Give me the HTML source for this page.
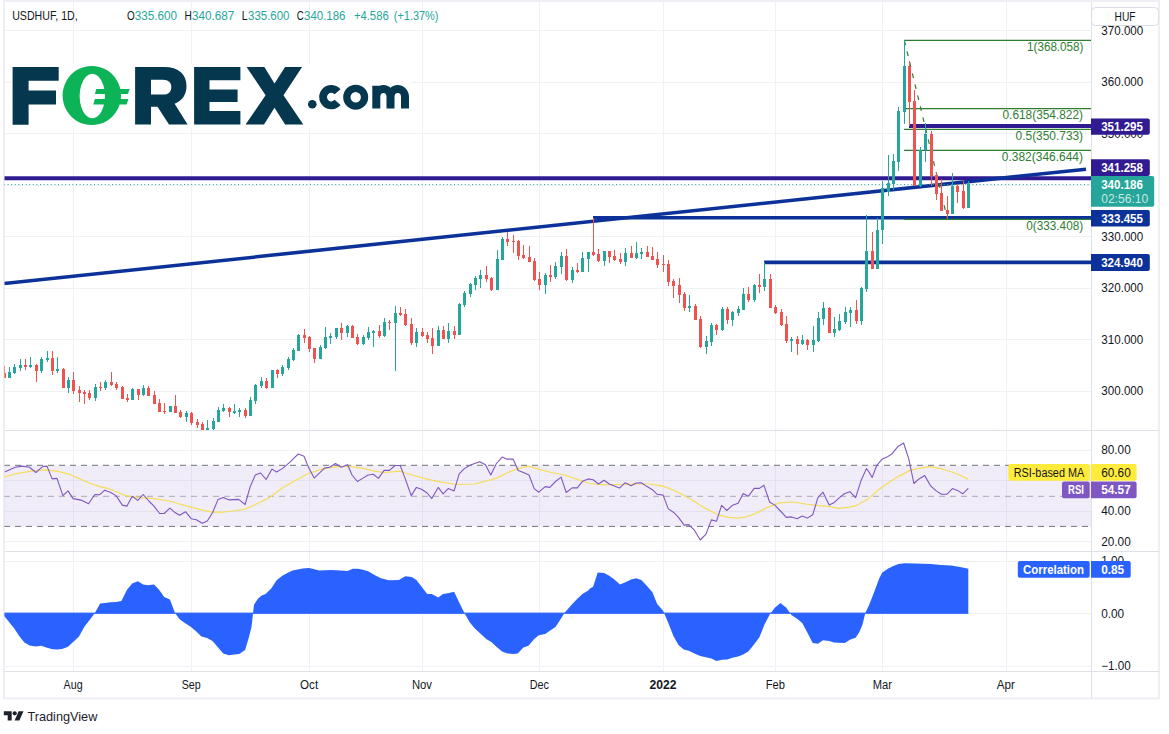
<!DOCTYPE html><html><head><meta charset="utf-8"><title>USDHUF</title><style>html,body{margin:0;padding:0;background:#fff}body{width:1169px;height:734px;overflow:hidden}</style></head><body><svg width="1169" height="734" viewBox="0 0 1169 734" style="display:block">
<rect width="1169" height="734" fill="#fff"/>
<rect x="4" y="1" width="1155" height="697.5" fill="#fff" stroke="#edeff5" stroke-width="2"/>
<g stroke="#f0f1f5" stroke-width="1" shape-rendering="crispEdges">
<line x1="73.5" y1="2" x2="73.5" y2="671"/>
<line x1="191.5" y1="2" x2="191.5" y2="671"/>
<line x1="309.5" y1="2" x2="309.5" y2="671"/>
<line x1="422.5" y1="2" x2="422.5" y2="671"/>
<line x1="539.5" y1="2" x2="539.5" y2="671"/>
<line x1="663.5" y1="2" x2="663.5" y2="671"/>
<line x1="775.5" y1="2" x2="775.5" y2="671"/>
<line x1="882.5" y1="2" x2="882.5" y2="671"/>
<line x1="1006.5" y1="2" x2="1006.5" y2="671"/>
<line x1="4" y1="30.6" x2="1091" y2="30.6"/>
<line x1="4" y1="82.1" x2="1091" y2="82.1"/>
<line x1="4" y1="133.6" x2="1091" y2="133.6"/>
<line x1="4" y1="185.1" x2="1091" y2="185.1"/>
<line x1="4" y1="236.6" x2="1091" y2="236.6"/>
<line x1="4" y1="288.1" x2="1091" y2="288.1"/>
<line x1="4" y1="339.5" x2="1091" y2="339.5"/>
<line x1="4" y1="391.0" x2="1091" y2="391.0"/>
<line x1="4" y1="450" x2="1091" y2="450"/>
<line x1="4" y1="480.5" x2="1091" y2="480.5"/>
<line x1="4" y1="511.5" x2="1091" y2="511.5"/>
<line x1="4" y1="541.5" x2="1091" y2="541.5"/>
<line x1="4" y1="561" x2="1091" y2="561"/>
<line x1="4" y1="613.4" x2="1091" y2="613.4"/>
<line x1="4" y1="666" x2="1091" y2="666"/>
</g>
<g stroke="#dfe1e8" stroke-width="1" shape-rendering="crispEdges">
<line x1="4" y1="430.5" x2="1159" y2="430.5"/>
<line x1="4" y1="551.5" x2="1159" y2="551.5"/>
<line x1="4" y1="671.5" x2="1159" y2="671.5"/>
<line x1="1091.5" y1="2" x2="1091.5" y2="698"/>
</g>
<rect x="4" y="465.3" width="1087" height="61.1" fill="#7e57c2" fill-opacity="0.11"/>
<g stroke="#70737f" stroke-width="1">
<line x1="4" y1="465.3" x2="1091" y2="465.3" stroke-dasharray="6,5"/>
<line x1="4" y1="526.4" x2="1091" y2="526.4" stroke-dasharray="6,5"/>
<line x1="4" y1="496.3" x2="1091" y2="496.3" stroke-dasharray="6,5" stroke-opacity="0.55"/>
</g>
<path d="M4.6,477.1 L15.4,473.8 L30.8,471.2 L46.2,469.9 L56.5,471.2 L68.0,473.8 L77.0,477.6 L88.5,482.7 L100.1,486.6 L110.3,489.2 L125.7,495.6 L138.6,497.6 L154.0,498.6 L169.4,501.0 L179.6,504.0 L191.2,507.1 L202.7,510.2 L212.5,512.2 L223.2,512.2 L233.5,511.0 L245.1,509.2 L255.3,504.5 L269.4,497.6 L282.3,487.9 L295.0,480.7 L307.8,473.8 L323.2,468.6 L336.1,466.8 L347.6,466.1 L361.7,468.1 L374.5,471.2 L384.8,472.5 L400.2,471.2 L410.5,474.5 L425.9,478.9 L441.3,482.2 L456.7,484.5 L474.6,484.0 L487.5,480.7 L497.7,477.6 L508.0,472.5 L518.2,468.6 L528.5,466.1 L538.8,469.1 L551.6,472.5 L564.4,475.0 L577.3,479.4 L587.5,482.7 L590.0,483.5 L602.8,484.8 L618.2,484.5 L633.6,484.0 L649.0,484.0 L663.1,486.1 L677.2,491.7 L692.6,500.2 L705.5,508.4 L718.3,514.8 L728.6,517.4 L737.5,518.1 L746.5,516.9 L756.8,513.0 L767.1,507.6 L779.9,502.8 L792.7,502.0 L805.6,504.0 L818.4,505.6 L828.6,506.3 L838.9,508.4 L849.2,507.1 L856.9,505.3 L867.1,499.4 L869.0,498.1 L879.3,489.2 L889.5,482.0 L899.8,475.6 L910.1,470.4 L920.3,468.1 L930.6,466.6 L940.9,468.6 L951.1,471.7 L961.4,475.8 L968.3,479.4" fill="none" stroke="#f6dc5a" stroke-width="1.2" stroke-linejoin="round"/>
<path d="M4.6,472.0 L15.4,467.3 L21.8,466.1 L29.5,467.3 L35.9,472.5 L42.3,466.8 L47.0,466.1 L52.1,478.9 L57.0,478.4 L62.9,495.6 L68.0,490.9 L73.1,498.6 L82.1,500.4 L88.5,503.8 L94.9,494.5 L99.6,494.8 L104.7,490.2 L110.3,492.2 L116.0,495.6 L122.4,505.1 L127.0,506.1 L132.2,496.3 L137.8,500.4 L143.2,494.5 L148.8,501.0 L154.0,506.1 L159.6,513.5 L164.2,513.5 L169.9,508.1 L174.5,512.2 L179.6,515.3 L185.5,511.7 L191.2,518.7 L196.3,519.7 L202.2,523.3 L207.3,521.0 L212.5,512.8 L218.1,499.4 L223.2,497.6 L229.2,499.9 L238.6,499.4 L245.1,504.5 L250.2,486.6 L255.3,475.0 L260.5,473.0 L266.1,479.4 L272.0,469.1 L276.6,472.0 L282.3,468.6 L290.0,462.2 L295.0,457.1 L298.3,454.0 L304.0,456.3 L309.1,468.6 L314.2,478.1 L319.4,473.2 L324.5,468.1 L329.6,467.3 L335.5,463.5 L341.2,467.3 L347.6,464.8 L352.0,475.0 L357.4,481.5 L363.0,478.1 L368.1,475.0 L373.3,474.3 L378.4,478.4 L384.0,470.4 L389.4,470.4 L395.1,465.5 L400.2,465.5 L405.3,478.9 L411.2,495.6 L416.4,487.4 L421.5,489.2 L427.2,493.0 L431.8,498.6 L438.2,487.4 L443.1,493.8 L448.2,488.6 L454.1,490.9 L459.2,473.8 L464.4,468.6 L469.5,465.5 L474.6,463.5 L479.8,461.7 L485.4,464.8 L490.8,475.0 L496.4,463.5 L502.1,457.1 L506.7,459.1 L513.1,459.1 L518.2,470.4 L523.4,472.5 L529.0,475.0 L534.2,488.6 L538.8,492.2 L545.2,486.6 L549.8,487.4 L555.5,481.5 L561.1,477.1 L566.2,492.5 L572.1,487.9 L577.3,487.9 L582.9,480.9 L588.3,478.9 L593.1,479.7 L598.5,484.0 L604.1,480.2 L609.2,484.0 L614.4,486.1 L619.5,488.1 L625.2,482.7 L631.1,485.8 L636.2,483.0 L641.3,482.7 L647.0,486.6 L652.4,489.7 L657.2,494.3 L663.1,495.1 L668.3,508.9 L673.4,512.2 L678.5,517.4 L684.2,525.1 L688.8,524.6 L694.4,530.2 L700.3,540.0 L706.0,534.1 L711.4,519.9 L716.5,521.2 L721.6,505.3 L726.8,510.5 L732.4,505.3 L738.1,503.3 L743.2,493.5 L748.3,496.3 L754.2,488.4 L759.4,488.4 L764.0,485.3 L769.6,502.0 L774.8,505.1 L780.4,511.0 L786.3,517.4 L791.4,516.9 L797.1,518.7 L802.2,516.1 L807.3,518.1 L812.7,514.8 L817.9,497.6 L823.0,492.2 L829.2,505.1 L833.8,502.8 L839.4,497.6 L844.8,493.5 L849.9,491.7 L855.6,497.6 L861.2,480.2 L866.4,468.6 L869.0,472.0 L872.1,477.6 L876.7,465.5 L882.3,458.9 L887.0,457.1 L892.1,453.7 L897.7,446.8 L903.6,443.0 L908.8,459.1 L913.9,483.5 L919.0,478.9 L924.7,475.6 L930.6,485.8 L936.2,490.9 L941.4,494.3 L946.8,494.3 L952.4,488.6 L957.5,490.4 L962.7,493.8 L968.3,488.4" fill="none" stroke="#7e57c2" stroke-width="1.1" stroke-linejoin="round"/>
<path d="M3.8,613.2 L3.8,615.4 L9.0,621.9 L14.1,628.3 L19.2,636.0 L24.4,642.4 L29.5,645.5 L35.9,646.5 L41.1,645.7 L46.2,647.5 L52.6,649.3 L57.7,649.6 L62.9,648.8 L68.0,646.7 L73.1,641.9 L79.0,636.5 L84.2,627.0 L89.8,619.8 L94.9,612.9 L100.1,603.4 L105.2,603.1 L110.3,602.3 L116.0,602.1 L121.4,601.1 L127.0,589.8 L132.2,583.4 L137.8,581.3 L143.2,584.6 L148.1,585.2 L154.0,584.6 L159.1,589.8 L164.2,597.0 L169.9,599.5 L175.0,612.9 L179.6,619.3 L184.8,623.1 L190.4,626.5 L196.3,631.6 L201.4,636.5 L207.1,638.0 L212.5,641.1 L218.1,647.5 L223.2,653.4 L228.9,655.2 L234.0,654.4 L239.2,653.9 L245.1,650.1 L248.9,637.2 L251.5,627.0 L254.0,604.7 L257.9,598.8 L261.7,595.4 L265.6,594.1 L271.2,588.5 L276.6,580.3 L282.3,575.7 L287.4,573.1 L292.5,570.5 L295.0,570.0 L302.7,568.5 L309.1,568.0 L319.4,570.5 L330.9,570.0 L341.2,570.5 L347.6,571.0 L352.7,568.7 L357.9,568.7 L363.0,569.8 L368.1,571.3 L374.5,574.9 L381.0,578.2 L388.7,580.3 L398.9,580.0 L405.3,576.2 L411.8,576.9 L416.4,580.0 L422.0,587.2 L427.2,594.1 L431.8,594.1 L438.2,597.5 L443.1,594.1 L449.0,593.1 L454.1,591.8 L459.2,602.6 L464.4,612.9 L469.5,621.9 L474.6,628.3 L480.3,633.4 L486.2,639.0 L491.3,641.9 L496.4,646.7 L502.1,651.4 L507.5,653.4 L513.1,653.9 L517.7,653.4 L523.4,647.5 L528.5,645.7 L534.2,639.0 L538.8,635.2 L545.2,633.9 L549.8,630.8 L555.5,627.0 L560.6,619.3 L564.4,612.9 L571.6,604.7 L577.3,598.8 L582.4,594.1 L588.3,590.5 L590.0,588.5 L593.1,586.7 L597.7,572.6 L604.1,573.1 L609.2,575.7 L614.4,579.5 L620.0,584.6 L625.9,582.1 L631.1,579.5 L636.2,578.2 L641.3,580.0 L647.0,585.9 L652.4,592.3 L657.2,603.9 L663.1,610.8 L665.7,616.7 L668.3,623.1 L673.4,636.0 L678.5,644.9 L683.7,649.6 L688.8,650.8 L694.4,653.4 L700.3,656.0 L706.0,657.3 L711.4,658.5 L716.5,660.9 L722.2,659.8 L727.3,659.6 L732.4,657.8 L738.1,656.5 L743.2,654.4 L748.3,651.4 L754.2,644.2 L759.4,637.2 L764.5,624.4 L769.6,614.7 L774.8,607.7 L780.4,603.1 L786.3,607.7 L791.4,614.9 L797.1,618.8 L802.2,623.1 L807.3,632.6 L812.7,643.1 L817.9,643.7 L823.0,640.3 L829.2,641.1 L833.8,642.4 L844.8,642.9 L849.9,639.8 L855.6,637.8 L859.4,632.1 L862.5,624.4 L865.3,612.9 L869.0,605.2 L874.1,592.3 L879.3,578.2 L882.3,572.6 L888.2,568.5 L893.4,565.9 L898.5,564.1 L904.9,563.3 L915.2,563.6 L930.6,564.1 L940.9,564.9 L951.1,565.4 L960.1,566.9 L968.3,568.7 L968.3,612.9 L968.3,613.2 Z" fill="#2962ff"/>
<rect x="4" y="612.6" width="964.3" height="1.2" fill="#2962ff"/>
<rect x="11" y="64" width="400" height="63.5" fill="#fff"/>
<line x1="4.2" y1="178.2" x2="1091" y2="178.2" stroke="#311b92" stroke-width="4"/>
<line x1="909" y1="126" x2="1091" y2="126" stroke="#311b92" stroke-width="4"/>
<line x1="593" y1="217.8" x2="1091" y2="217.8" stroke="#0c3299" stroke-width="3.6"/>
<line x1="764" y1="262.4" x2="1091" y2="262.4" stroke="#0c3299" stroke-width="3.6"/>
<line x1="4.2" y1="283.5" x2="1086" y2="169.2" stroke="#0c3299" stroke-width="3.5"/>
<line x1="4" y1="184.5" x2="1091" y2="184.5" stroke="#26a69a" stroke-width="1" stroke-dasharray="1,2.6"/>
<g stroke="#2e7d32" stroke-width="1.2">
<line x1="904" y1="40.4" x2="1091" y2="40.4"/>
<line x1="904" y1="108.6" x2="1091" y2="108.6"/>
<line x1="904" y1="129.4" x2="1091" y2="129.4"/>
<line x1="904" y1="150.3" x2="1091" y2="150.3"/>
<line x1="904" y1="219.4" x2="1091" y2="219.4"/>
<line x1="904.4" y1="40.4" x2="947.4" y2="219" stroke-dasharray="4.8,6.5" stroke-width="1.2"/>
</g>
<g shape-rendering="crispEdges">
<rect x="4" y="366" width="1" height="12" fill="#ef5350"/><rect x="3" y="373" width="3" height="5" fill="#ef5350"/>
<rect x="9" y="367" width="1" height="11" fill="#26a69a"/><rect x="8" y="372" width="3" height="6" fill="#26a69a"/>
<rect x="14" y="364" width="1" height="10" fill="#26a69a"/><rect x="13" y="367" width="3" height="6" fill="#26a69a"/>
<rect x="20" y="359" width="1" height="12" fill="#26a69a"/><rect x="19" y="365" width="3" height="3" fill="#26a69a"/>
<rect x="25" y="359" width="1" height="11" fill="#ef5350"/><rect x="24" y="365" width="3" height="2" fill="#ef5350"/>
<rect x="30" y="357" width="1" height="11" fill="#26a69a"/><rect x="29" y="365" width="3" height="2" fill="#26a69a"/>
<rect x="36" y="364" width="1" height="18" fill="#ef5350"/><rect x="35" y="365" width="3" height="6" fill="#ef5350"/>
<rect x="41" y="357" width="1" height="16" fill="#26a69a"/><rect x="40" y="359" width="3" height="12" fill="#26a69a"/>
<rect x="47" y="351" width="1" height="11" fill="#26a69a"/><rect x="46" y="358" width="3" height="2" fill="#26a69a"/>
<rect x="52" y="351" width="1" height="24" fill="#ef5350"/><rect x="51" y="358" width="3" height="13" fill="#ef5350"/>
<rect x="57" y="357" width="1" height="16" fill="#26a69a"/><rect x="56" y="369" width="3" height="2" fill="#26a69a"/>
<rect x="63" y="368" width="1" height="20" fill="#ef5350"/><rect x="62" y="369" width="3" height="19" fill="#ef5350"/>
<rect x="68" y="377" width="1" height="16" fill="#26a69a"/><rect x="67" y="380" width="3" height="8" fill="#26a69a"/>
<rect x="73" y="372" width="1" height="22" fill="#ef5350"/><rect x="72" y="380" width="3" height="11" fill="#ef5350"/>
<rect x="79" y="386" width="1" height="16" fill="#ef5350"/><rect x="78" y="390" width="3" height="3" fill="#ef5350"/>
<rect x="84" y="390" width="1" height="14" fill="#ef5350"/><rect x="83" y="392" width="3" height="2" fill="#ef5350"/>
<rect x="89" y="390" width="1" height="10" fill="#ef5350"/><rect x="88" y="393" width="3" height="5" fill="#ef5350"/>
<rect x="95" y="384" width="1" height="17" fill="#26a69a"/><rect x="94" y="387" width="3" height="11" fill="#26a69a"/>
<rect x="100" y="382" width="1" height="9" fill="#ef5350"/><rect x="99" y="387" width="3" height="1" fill="#ef5350"/>
<rect x="105" y="380" width="1" height="10" fill="#26a69a"/><rect x="104" y="382" width="3" height="6" fill="#26a69a"/>
<rect x="111" y="372" width="1" height="14" fill="#ef5350"/><rect x="110" y="382" width="3" height="3" fill="#ef5350"/>
<rect x="116" y="382" width="1" height="8" fill="#ef5350"/><rect x="115" y="384" width="3" height="4" fill="#ef5350"/>
<rect x="122" y="386" width="1" height="13" fill="#ef5350"/><rect x="121" y="387" width="3" height="12" fill="#ef5350"/>
<rect x="127" y="394" width="1" height="8" fill="#ef5350"/><rect x="126" y="398" width="3" height="2" fill="#ef5350"/>
<rect x="132" y="388" width="1" height="12" fill="#26a69a"/><rect x="131" y="389" width="3" height="11" fill="#26a69a"/>
<rect x="138" y="389" width="1" height="11" fill="#ef5350"/><rect x="137" y="389" width="3" height="6" fill="#ef5350"/>
<rect x="143" y="385" width="1" height="11" fill="#26a69a"/><rect x="142" y="388" width="3" height="7" fill="#26a69a"/>
<rect x="148" y="386" width="1" height="10" fill="#ef5350"/><rect x="147" y="388" width="3" height="8" fill="#ef5350"/>
<rect x="154" y="391" width="1" height="13" fill="#ef5350"/><rect x="153" y="395" width="3" height="9" fill="#ef5350"/>
<rect x="159" y="399" width="1" height="13" fill="#ef5350"/><rect x="158" y="403" width="3" height="9" fill="#ef5350"/>
<rect x="164" y="403" width="1" height="11" fill="#ef5350"/><rect x="163" y="411" width="3" height="1" fill="#ef5350"/>
<rect x="170" y="406" width="1" height="6" fill="#26a69a"/><rect x="169" y="406" width="3" height="6" fill="#26a69a"/>
<rect x="175" y="395" width="1" height="18" fill="#ef5350"/><rect x="174" y="406" width="3" height="7" fill="#ef5350"/>
<rect x="180" y="410" width="1" height="8" fill="#ef5350"/><rect x="179" y="412" width="3" height="5" fill="#ef5350"/>
<rect x="186" y="411" width="1" height="11" fill="#26a69a"/><rect x="185" y="413" width="3" height="4" fill="#26a69a"/>
<rect x="191" y="412" width="1" height="13" fill="#ef5350"/><rect x="190" y="413" width="3" height="10" fill="#ef5350"/>
<rect x="197" y="419" width="1" height="9" fill="#ef5350"/><rect x="196" y="422" width="3" height="3" fill="#ef5350"/>
<rect x="202" y="422" width="1" height="8" fill="#ef5350"/><rect x="201" y="424" width="3" height="6" fill="#ef5350"/>
<rect x="207" y="420" width="1" height="10" fill="#26a69a"/><rect x="206" y="428" width="3" height="2" fill="#26a69a"/>
<rect x="213" y="418" width="1" height="12" fill="#26a69a"/><rect x="212" y="421" width="3" height="8" fill="#26a69a"/>
<rect x="218" y="407" width="1" height="15" fill="#26a69a"/><rect x="217" y="410" width="3" height="12" fill="#26a69a"/>
<rect x="223" y="404" width="1" height="8" fill="#26a69a"/><rect x="222" y="408" width="3" height="3" fill="#26a69a"/>
<rect x="229" y="407" width="1" height="10" fill="#ef5350"/><rect x="228" y="408" width="3" height="4" fill="#ef5350"/>
<rect x="234" y="404" width="1" height="10" fill="#26a69a"/><rect x="233" y="411" width="3" height="2" fill="#26a69a"/>
<rect x="239" y="408" width="1" height="9" fill="#26a69a"/><rect x="238" y="410" width="3" height="2" fill="#26a69a"/>
<rect x="245" y="408" width="1" height="10" fill="#ef5350"/><rect x="244" y="410" width="3" height="6" fill="#ef5350"/>
<rect x="250" y="397" width="1" height="19" fill="#26a69a"/><rect x="249" y="400" width="3" height="16" fill="#26a69a"/>
<rect x="255" y="384" width="1" height="20" fill="#26a69a"/><rect x="254" y="385" width="3" height="16" fill="#26a69a"/>
<rect x="261" y="377" width="1" height="11" fill="#26a69a"/><rect x="260" y="381" width="3" height="5" fill="#26a69a"/>
<rect x="266" y="378" width="1" height="11" fill="#ef5350"/><rect x="265" y="381" width="3" height="7" fill="#ef5350"/>
<rect x="272" y="370" width="1" height="18" fill="#26a69a"/><rect x="271" y="370" width="3" height="18" fill="#26a69a"/>
<rect x="277" y="369" width="1" height="9" fill="#ef5350"/><rect x="276" y="370" width="3" height="4" fill="#ef5350"/>
<rect x="282" y="365" width="1" height="11" fill="#26a69a"/><rect x="281" y="367" width="3" height="7" fill="#26a69a"/>
<rect x="288" y="357" width="1" height="13" fill="#26a69a"/><rect x="287" y="359" width="3" height="9" fill="#26a69a"/>
<rect x="293" y="348" width="1" height="13" fill="#26a69a"/><rect x="292" y="350" width="3" height="10" fill="#26a69a"/>
<rect x="298" y="334" width="1" height="17" fill="#26a69a"/><rect x="297" y="335" width="3" height="16" fill="#26a69a"/>
<rect x="304" y="329" width="1" height="14" fill="#ef5350"/><rect x="303" y="335" width="3" height="3" fill="#ef5350"/>
<rect x="309" y="336" width="1" height="16" fill="#ef5350"/><rect x="308" y="337" width="3" height="12" fill="#ef5350"/>
<rect x="314" y="348" width="1" height="15" fill="#ef5350"/><rect x="313" y="348" width="3" height="11" fill="#ef5350"/>
<rect x="320" y="345" width="1" height="14" fill="#26a69a"/><rect x="319" y="347" width="3" height="12" fill="#26a69a"/>
<rect x="325" y="327" width="1" height="22" fill="#26a69a"/><rect x="324" y="337" width="3" height="11" fill="#26a69a"/>
<rect x="330" y="333" width="1" height="11" fill="#26a69a"/><rect x="329" y="336" width="3" height="2" fill="#26a69a"/>
<rect x="336" y="328" width="1" height="11" fill="#26a69a"/><rect x="335" y="328" width="3" height="9" fill="#26a69a"/>
<rect x="341" y="323" width="1" height="17" fill="#ef5350"/><rect x="340" y="328" width="3" height="5" fill="#ef5350"/>
<rect x="347" y="325" width="1" height="12" fill="#26a69a"/><rect x="346" y="326" width="3" height="7" fill="#26a69a"/>
<rect x="352" y="325" width="1" height="13" fill="#ef5350"/><rect x="351" y="326" width="3" height="12" fill="#ef5350"/>
<rect x="357" y="334" width="1" height="11" fill="#ef5350"/><rect x="356" y="337" width="3" height="7" fill="#ef5350"/>
<rect x="363" y="335" width="1" height="10" fill="#26a69a"/><rect x="362" y="337" width="3" height="7" fill="#26a69a"/>
<rect x="368" y="327" width="1" height="13" fill="#26a69a"/><rect x="367" y="332" width="3" height="6" fill="#26a69a"/>
<rect x="373" y="330" width="1" height="17" fill="#26a69a"/><rect x="372" y="331" width="3" height="2" fill="#26a69a"/>
<rect x="379" y="325" width="1" height="13" fill="#ef5350"/><rect x="378" y="331" width="3" height="5" fill="#ef5350"/>
<rect x="384" y="318" width="1" height="19" fill="#26a69a"/><rect x="383" y="322" width="3" height="14" fill="#26a69a"/>
<rect x="389" y="320" width="1" height="10" fill="#ef5350"/><rect x="388" y="322" width="3" height="1" fill="#ef5350"/>
<rect x="395" y="306" width="1" height="65" fill="#26a69a"/><rect x="394" y="313" width="3" height="10" fill="#26a69a"/>
<rect x="400" y="307" width="1" height="9" fill="#ef5350"/><rect x="399" y="313" width="3" height="2" fill="#ef5350"/>
<rect x="405" y="309" width="1" height="17" fill="#ef5350"/><rect x="404" y="314" width="3" height="11" fill="#ef5350"/>
<rect x="411" y="318" width="1" height="27" fill="#ef5350"/><rect x="410" y="324" width="3" height="19" fill="#ef5350"/>
<rect x="416" y="328" width="1" height="19" fill="#26a69a"/><rect x="415" y="332" width="3" height="11" fill="#26a69a"/>
<rect x="422" y="328" width="1" height="9" fill="#ef5350"/><rect x="421" y="332" width="3" height="4" fill="#ef5350"/>
<rect x="427" y="332" width="1" height="11" fill="#ef5350"/><rect x="426" y="335" width="3" height="4" fill="#ef5350"/>
<rect x="432" y="328" width="1" height="26" fill="#ef5350"/><rect x="431" y="338" width="3" height="8" fill="#ef5350"/>
<rect x="438" y="326" width="1" height="20" fill="#26a69a"/><rect x="437" y="330" width="3" height="16" fill="#26a69a"/>
<rect x="443" y="326" width="1" height="13" fill="#ef5350"/><rect x="442" y="330" width="3" height="9" fill="#ef5350"/>
<rect x="448" y="323" width="1" height="20" fill="#26a69a"/><rect x="447" y="331" width="3" height="8" fill="#26a69a"/>
<rect x="454" y="326" width="1" height="13" fill="#ef5350"/><rect x="453" y="331" width="3" height="4" fill="#ef5350"/>
<rect x="459" y="303" width="1" height="32" fill="#26a69a"/><rect x="458" y="304" width="3" height="31" fill="#26a69a"/>
<rect x="464" y="291" width="1" height="16" fill="#26a69a"/><rect x="463" y="293" width="3" height="12" fill="#26a69a"/>
<rect x="470" y="283" width="1" height="14" fill="#26a69a"/><rect x="469" y="284" width="3" height="10" fill="#26a69a"/>
<rect x="475" y="276" width="1" height="14" fill="#26a69a"/><rect x="474" y="278" width="3" height="7" fill="#26a69a"/>
<rect x="480" y="270" width="1" height="18" fill="#26a69a"/><rect x="479" y="275" width="3" height="4" fill="#26a69a"/>
<rect x="486" y="266" width="1" height="16" fill="#ef5350"/><rect x="485" y="275" width="3" height="4" fill="#ef5350"/>
<rect x="491" y="277" width="1" height="14" fill="#ef5350"/><rect x="490" y="278" width="3" height="12" fill="#ef5350"/>
<rect x="497" y="250" width="1" height="40" fill="#26a69a"/><rect x="496" y="259" width="3" height="31" fill="#26a69a"/>
<rect x="502" y="237" width="1" height="23" fill="#26a69a"/><rect x="501" y="239" width="3" height="21" fill="#26a69a"/>
<rect x="507" y="232" width="1" height="14" fill="#ef5350"/><rect x="506" y="239" width="3" height="3" fill="#ef5350"/>
<rect x="513" y="235" width="1" height="18" fill="#ef5350"/><rect x="512" y="241" width="3" height="1" fill="#ef5350"/>
<rect x="518" y="240" width="1" height="20" fill="#ef5350"/><rect x="517" y="241" width="3" height="15" fill="#ef5350"/>
<rect x="523" y="245" width="1" height="14" fill="#ef5350"/><rect x="522" y="255" width="3" height="3" fill="#ef5350"/>
<rect x="529" y="246" width="1" height="16" fill="#ef5350"/><rect x="528" y="257" width="3" height="5" fill="#ef5350"/>
<rect x="534" y="258" width="1" height="23" fill="#ef5350"/><rect x="533" y="261" width="3" height="19" fill="#ef5350"/>
<rect x="539" y="272" width="1" height="18" fill="#ef5350"/><rect x="538" y="279" width="3" height="6" fill="#ef5350"/>
<rect x="545" y="273" width="1" height="21" fill="#26a69a"/><rect x="544" y="275" width="3" height="10" fill="#26a69a"/>
<rect x="550" y="265" width="1" height="17" fill="#ef5350"/><rect x="549" y="275" width="3" height="2" fill="#ef5350"/>
<rect x="555" y="262" width="1" height="17" fill="#26a69a"/><rect x="554" y="266" width="3" height="11" fill="#26a69a"/>
<rect x="561" y="252" width="1" height="22" fill="#26a69a"/><rect x="560" y="256" width="3" height="11" fill="#26a69a"/>
<rect x="566" y="249" width="1" height="32" fill="#ef5350"/><rect x="565" y="256" width="3" height="24" fill="#ef5350"/>
<rect x="572" y="267" width="1" height="16" fill="#26a69a"/><rect x="571" y="270" width="3" height="10" fill="#26a69a"/>
<rect x="577" y="263" width="1" height="10" fill="#ef5350"/><rect x="576" y="270" width="3" height="2" fill="#ef5350"/>
<rect x="582" y="252" width="1" height="20" fill="#26a69a"/><rect x="581" y="258" width="3" height="14" fill="#26a69a"/>
<rect x="588" y="252" width="1" height="20" fill="#26a69a"/><rect x="587" y="252" width="3" height="7" fill="#26a69a"/>
<rect x="593" y="218" width="1" height="38" fill="#ef5350"/><rect x="592" y="252" width="3" height="3" fill="#ef5350"/>
<rect x="598" y="249" width="1" height="13" fill="#ef5350"/><rect x="597" y="254" width="3" height="7" fill="#ef5350"/>
<rect x="604" y="251" width="1" height="15" fill="#26a69a"/><rect x="603" y="251" width="3" height="10" fill="#26a69a"/>
<rect x="609" y="251" width="1" height="12" fill="#ef5350"/><rect x="608" y="251" width="3" height="6" fill="#ef5350"/>
<rect x="614" y="250" width="1" height="11" fill="#ef5350"/><rect x="613" y="256" width="3" height="4" fill="#ef5350"/>
<rect x="620" y="253" width="1" height="11" fill="#ef5350"/><rect x="619" y="259" width="3" height="3" fill="#ef5350"/>
<rect x="625" y="248" width="1" height="18" fill="#26a69a"/><rect x="624" y="253" width="3" height="9" fill="#26a69a"/>
<rect x="631" y="246" width="1" height="12" fill="#ef5350"/><rect x="630" y="253" width="3" height="5" fill="#ef5350"/>
<rect x="636" y="242" width="1" height="17" fill="#26a69a"/><rect x="635" y="253" width="3" height="5" fill="#26a69a"/>
<rect x="641" y="248" width="1" height="11" fill="#26a69a"/><rect x="640" y="252" width="3" height="2" fill="#26a69a"/>
<rect x="647" y="246" width="1" height="11" fill="#ef5350"/><rect x="646" y="252" width="3" height="5" fill="#ef5350"/>
<rect x="652" y="247" width="1" height="13" fill="#ef5350"/><rect x="651" y="256" width="3" height="4" fill="#ef5350"/>
<rect x="657" y="252" width="1" height="16" fill="#ef5350"/><rect x="656" y="259" width="3" height="6" fill="#ef5350"/>
<rect x="663" y="255" width="1" height="17" fill="#ef5350"/><rect x="662" y="264" width="3" height="1" fill="#ef5350"/>
<rect x="668" y="260" width="1" height="26" fill="#ef5350"/><rect x="667" y="264" width="3" height="18" fill="#ef5350"/>
<rect x="673" y="279" width="1" height="19" fill="#ef5350"/><rect x="672" y="281" width="3" height="5" fill="#ef5350"/>
<rect x="679" y="278" width="1" height="25" fill="#ef5350"/><rect x="678" y="285" width="3" height="10" fill="#ef5350"/>
<rect x="684" y="292" width="1" height="19" fill="#ef5350"/><rect x="683" y="294" width="3" height="14" fill="#ef5350"/>
<rect x="689" y="295" width="1" height="17" fill="#26a69a"/><rect x="688" y="306" width="3" height="2" fill="#26a69a"/>
<rect x="695" y="304" width="1" height="16" fill="#ef5350"/><rect x="694" y="306" width="3" height="14" fill="#ef5350"/>
<rect x="700" y="316" width="1" height="32" fill="#ef5350"/><rect x="699" y="319" width="3" height="28" fill="#ef5350"/>
<rect x="706" y="336" width="1" height="18" fill="#26a69a"/><rect x="705" y="341" width="3" height="6" fill="#26a69a"/>
<rect x="711" y="323" width="1" height="23" fill="#26a69a"/><rect x="710" y="325" width="3" height="17" fill="#26a69a"/>
<rect x="716" y="324" width="1" height="11" fill="#ef5350"/><rect x="715" y="325" width="3" height="5" fill="#ef5350"/>
<rect x="722" y="307" width="1" height="24" fill="#26a69a"/><rect x="721" y="309" width="3" height="21" fill="#26a69a"/>
<rect x="727" y="307" width="1" height="17" fill="#ef5350"/><rect x="726" y="309" width="3" height="11" fill="#ef5350"/>
<rect x="732" y="311" width="1" height="15" fill="#26a69a"/><rect x="731" y="312" width="3" height="8" fill="#26a69a"/>
<rect x="738" y="306" width="1" height="10" fill="#26a69a"/><rect x="737" y="309" width="3" height="4" fill="#26a69a"/>
<rect x="743" y="288" width="1" height="22" fill="#26a69a"/><rect x="742" y="294" width="3" height="16" fill="#26a69a"/>
<rect x="748" y="287" width="1" height="15" fill="#ef5350"/><rect x="747" y="294" width="3" height="6" fill="#ef5350"/>
<rect x="754" y="284" width="1" height="18" fill="#26a69a"/><rect x="753" y="285" width="3" height="15" fill="#26a69a"/>
<rect x="759" y="274" width="1" height="19" fill="#ef5350"/><rect x="758" y="285" width="3" height="2" fill="#ef5350"/>
<rect x="764" y="262" width="1" height="29" fill="#26a69a"/><rect x="763" y="279" width="3" height="8" fill="#26a69a"/>
<rect x="770" y="274" width="1" height="34" fill="#ef5350"/><rect x="769" y="279" width="3" height="29" fill="#ef5350"/>
<rect x="775" y="305" width="1" height="9" fill="#ef5350"/><rect x="774" y="307" width="3" height="6" fill="#ef5350"/>
<rect x="781" y="309" width="1" height="17" fill="#ef5350"/><rect x="780" y="312" width="3" height="13" fill="#ef5350"/>
<rect x="786" y="316" width="1" height="27" fill="#ef5350"/><rect x="785" y="324" width="3" height="17" fill="#ef5350"/>
<rect x="791" y="337" width="1" height="15" fill="#26a69a"/><rect x="790" y="339" width="3" height="2" fill="#26a69a"/>
<rect x="797" y="336" width="1" height="19" fill="#ef5350"/><rect x="796" y="339" width="3" height="5" fill="#ef5350"/>
<rect x="802" y="335" width="1" height="10" fill="#26a69a"/><rect x="801" y="340" width="3" height="4" fill="#26a69a"/>
<rect x="807" y="339" width="1" height="11" fill="#ef5350"/><rect x="806" y="340" width="3" height="5" fill="#ef5350"/>
<rect x="813" y="326" width="1" height="26" fill="#26a69a"/><rect x="812" y="340" width="3" height="5" fill="#26a69a"/>
<rect x="818" y="312" width="1" height="30" fill="#26a69a"/><rect x="817" y="318" width="3" height="23" fill="#26a69a"/>
<rect x="823" y="302" width="1" height="23" fill="#26a69a"/><rect x="822" y="308" width="3" height="11" fill="#26a69a"/>
<rect x="829" y="307" width="1" height="26" fill="#ef5350"/><rect x="828" y="308" width="3" height="25" fill="#ef5350"/>
<rect x="834" y="317" width="1" height="20" fill="#26a69a"/><rect x="833" y="329" width="3" height="4" fill="#26a69a"/>
<rect x="839" y="314" width="1" height="17" fill="#26a69a"/><rect x="838" y="321" width="3" height="9" fill="#26a69a"/>
<rect x="845" y="307" width="1" height="17" fill="#26a69a"/><rect x="844" y="312" width="3" height="10" fill="#26a69a"/>
<rect x="850" y="307" width="1" height="20" fill="#26a69a"/><rect x="849" y="310" width="3" height="3" fill="#26a69a"/>
<rect x="856" y="300" width="1" height="24" fill="#ef5350"/><rect x="855" y="310" width="3" height="11" fill="#ef5350"/>
<rect x="861" y="287" width="1" height="38" fill="#26a69a"/><rect x="860" y="288" width="3" height="33" fill="#26a69a"/>
<rect x="866" y="215" width="1" height="77" fill="#26a69a"/><rect x="865" y="251" width="3" height="38" fill="#26a69a"/>
<rect x="872" y="232" width="1" height="37" fill="#ef5350"/><rect x="871" y="251" width="3" height="18" fill="#ef5350"/>
<rect x="877" y="218" width="1" height="51" fill="#26a69a"/><rect x="876" y="230" width="3" height="39" fill="#26a69a"/>
<rect x="882" y="181" width="1" height="63" fill="#26a69a"/><rect x="881" y="188" width="3" height="42" fill="#26a69a"/>
<rect x="888" y="155" width="1" height="41" fill="#26a69a"/><rect x="887" y="183" width="3" height="9" fill="#26a69a"/>
<rect x="893" y="154" width="1" height="36" fill="#26a69a"/><rect x="892" y="161" width="3" height="23" fill="#26a69a"/>
<rect x="898" y="107" width="1" height="64" fill="#26a69a"/><rect x="897" y="111" width="3" height="51" fill="#26a69a"/>
<rect x="904" y="40" width="1" height="84" fill="#26a69a"/><rect x="903" y="66" width="3" height="46" fill="#26a69a"/>
<rect x="909" y="61" width="1" height="65" fill="#ef5350"/><rect x="908" y="66" width="3" height="36" fill="#ef5350"/>
<rect x="914" y="90" width="1" height="96" fill="#ef5350"/><rect x="913" y="101" width="3" height="85" fill="#ef5350"/>
<rect x="920" y="147" width="1" height="40" fill="#26a69a"/><rect x="919" y="150" width="3" height="36" fill="#26a69a"/>
<rect x="925" y="123" width="1" height="39" fill="#26a69a"/><rect x="924" y="134" width="3" height="16" fill="#26a69a"/>
<rect x="931" y="131" width="1" height="55" fill="#ef5350"/><rect x="930" y="134" width="3" height="42" fill="#ef5350"/>
<rect x="936" y="173" width="1" height="27" fill="#ef5350"/><rect x="935" y="175" width="3" height="19" fill="#ef5350"/>
<rect x="941" y="179" width="1" height="32" fill="#ef5350"/><rect x="940" y="193" width="3" height="18" fill="#ef5350"/>
<rect x="947" y="196" width="1" height="23" fill="#ef5350"/><rect x="946" y="210" width="3" height="4" fill="#ef5350"/>
<rect x="952" y="173" width="1" height="41" fill="#26a69a"/><rect x="951" y="186" width="3" height="28" fill="#26a69a"/>
<rect x="957" y="184" width="1" height="19" fill="#ef5350"/><rect x="956" y="186" width="3" height="6" fill="#ef5350"/>
<rect x="963" y="181" width="1" height="28" fill="#ef5350"/><rect x="962" y="191" width="3" height="17" fill="#ef5350"/>
<rect x="968" y="181" width="1" height="27" fill="#26a69a"/><rect x="967" y="184" width="3" height="24" fill="#26a69a"/>
</g>
<rect x="0" y="3" width="3" height="694" fill="#fff"/>
<rect x="3" y="2" width="1.4" height="695" fill="#edeff5"/>
<text x="1027" y="51" font-family="Liberation Sans, sans-serif" font-size="12" fill="#2e7d32" text-anchor="start" font-weight="normal" textLength="56.5" lengthAdjust="spacingAndGlyphs">1(368.058)</text>
<text x="1002.5" y="119" font-family="Liberation Sans, sans-serif" font-size="12" fill="#2e7d32" text-anchor="start" font-weight="normal" textLength="80.5" lengthAdjust="spacingAndGlyphs">0.618(354.822)</text>
<text x="1015.6" y="140.2" font-family="Liberation Sans, sans-serif" font-size="12" fill="#2e7d32" text-anchor="start" font-weight="normal" textLength="67.5" lengthAdjust="spacingAndGlyphs">0.5(350.733)</text>
<text x="1001.8" y="161" font-family="Liberation Sans, sans-serif" font-size="12" fill="#2e7d32" text-anchor="start" font-weight="normal" textLength="81.2" lengthAdjust="spacingAndGlyphs">0.382(346.644)</text>
<text x="1026.2" y="229.8" font-family="Liberation Sans, sans-serif" font-size="12" fill="#2e7d32" text-anchor="start" font-weight="normal" textLength="57" lengthAdjust="spacingAndGlyphs">0(333.408)</text>
<text x="12.2" y="19.8" font-family="Liberation Sans, sans-serif" font-size="12" fill="#131722" text-anchor="start" font-weight="normal" textLength="65.5" lengthAdjust="spacingAndGlyphs">USDHUF, 1D,</text>
<text x="126.9" y="19.8" font-family="Liberation Sans, sans-serif" font-size="12" fill="#131722" text-anchor="start" font-weight="normal" textLength="7.7" lengthAdjust="spacingAndGlyphs">O</text>
<text x="134.8" y="19.8" font-family="Liberation Sans, sans-serif" font-size="12" fill="#26a69a" text-anchor="start" font-weight="normal" textLength="42.2" lengthAdjust="spacingAndGlyphs">335.600</text>
<text x="184.5" y="19.8" font-family="Liberation Sans, sans-serif" font-size="12" fill="#131722" text-anchor="start" font-weight="normal" textLength="7.3" lengthAdjust="spacingAndGlyphs">H</text>
<text x="192" y="19.8" font-family="Liberation Sans, sans-serif" font-size="12" fill="#26a69a" text-anchor="start" font-weight="normal" textLength="42.2" lengthAdjust="spacingAndGlyphs">340.687</text>
<text x="241.7" y="19.8" font-family="Liberation Sans, sans-serif" font-size="12" fill="#131722" text-anchor="start" font-weight="normal" textLength="5.8" lengthAdjust="spacingAndGlyphs">L</text>
<text x="248" y="19.8" font-family="Liberation Sans, sans-serif" font-size="12" fill="#26a69a" text-anchor="start" font-weight="normal" textLength="41.5" lengthAdjust="spacingAndGlyphs">335.600</text>
<text x="296.8" y="19.8" font-family="Liberation Sans, sans-serif" font-size="12" fill="#131722" text-anchor="start" font-weight="normal" textLength="7" lengthAdjust="spacingAndGlyphs">C</text>
<text x="304" y="19.8" font-family="Liberation Sans, sans-serif" font-size="12" fill="#26a69a" text-anchor="start" font-weight="normal" textLength="41.5" lengthAdjust="spacingAndGlyphs">340.186</text>
<text x="353.9" y="19.8" font-family="Liberation Sans, sans-serif" font-size="12" fill="#26a69a" text-anchor="start" font-weight="normal" textLength="34.8" lengthAdjust="spacingAndGlyphs">+4.586</text>
<text x="393.8" y="19.8" font-family="Liberation Sans, sans-serif" font-size="12" fill="#26a69a" text-anchor="start" font-weight="normal" textLength="44.7" lengthAdjust="spacingAndGlyphs">(+1.37%)</text>
<text x="1101.3" y="34.9" font-family="Liberation Sans, sans-serif" font-size="12" fill="#131722" text-anchor="start" font-weight="normal" textLength="42" lengthAdjust="spacingAndGlyphs">370.000</text>
<text x="1101.3" y="86.39" font-family="Liberation Sans, sans-serif" font-size="12" fill="#131722" text-anchor="start" font-weight="normal" textLength="42" lengthAdjust="spacingAndGlyphs">360.000</text>
<text x="1101.3" y="137.88000000000002" font-family="Liberation Sans, sans-serif" font-size="12" fill="#131722" text-anchor="start" font-weight="normal" textLength="42" lengthAdjust="spacingAndGlyphs">350.000</text>
<text x="1101.3" y="189.37" font-family="Liberation Sans, sans-serif" font-size="12" fill="#131722" text-anchor="start" font-weight="normal" textLength="42" lengthAdjust="spacingAndGlyphs">340.000</text>
<text x="1101.3" y="240.86" font-family="Liberation Sans, sans-serif" font-size="12" fill="#131722" text-anchor="start" font-weight="normal" textLength="42" lengthAdjust="spacingAndGlyphs">330.000</text>
<text x="1101.3" y="292.35" font-family="Liberation Sans, sans-serif" font-size="12" fill="#131722" text-anchor="start" font-weight="normal" textLength="42" lengthAdjust="spacingAndGlyphs">320.000</text>
<text x="1101.3" y="343.84000000000003" font-family="Liberation Sans, sans-serif" font-size="12" fill="#131722" text-anchor="start" font-weight="normal" textLength="42" lengthAdjust="spacingAndGlyphs">310.000</text>
<text x="1101.3" y="395.33000000000004" font-family="Liberation Sans, sans-serif" font-size="12" fill="#131722" text-anchor="start" font-weight="normal" textLength="42" lengthAdjust="spacingAndGlyphs">300.000</text>
<text x="1101.2" y="454.3" font-family="Liberation Sans, sans-serif" font-size="12" fill="#131722" text-anchor="start" font-weight="normal" textLength="29.5" lengthAdjust="spacingAndGlyphs">80.00</text>
<text x="1101.2" y="514.8" font-family="Liberation Sans, sans-serif" font-size="12" fill="#131722" text-anchor="start" font-weight="normal" textLength="29.5" lengthAdjust="spacingAndGlyphs">40.00</text>
<text x="1101.2" y="546.0999999999999" font-family="Liberation Sans, sans-serif" font-size="12" fill="#131722" text-anchor="start" font-weight="normal" textLength="29.5" lengthAdjust="spacingAndGlyphs">20.00</text>
<text x="1101.2" y="565.3" font-family="Liberation Sans, sans-serif" font-size="12" fill="#131722" text-anchor="start" font-weight="normal" textLength="23" lengthAdjust="spacingAndGlyphs">1.00</text>
<text x="1101.2" y="617.6999999999999" font-family="Liberation Sans, sans-serif" font-size="12" fill="#131722" text-anchor="start" font-weight="normal" textLength="23" lengthAdjust="spacingAndGlyphs">0.00</text>
<text x="1101.2" y="669.8" font-family="Liberation Sans, sans-serif" font-size="12" fill="#131722" text-anchor="start" font-weight="normal" textLength="29.5" lengthAdjust="spacingAndGlyphs">−1.00</text>
<rect x="1091.5" y="7.5" width="67" height="18" rx="4" fill="#fff" stroke="#d9dce5" stroke-width="1"/>
<text x="1125" y="21" font-family="Liberation Sans, sans-serif" font-size="12" fill="#131722" text-anchor="middle" font-weight="normal" textLength="21" lengthAdjust="spacingAndGlyphs">HUF</text>
<path d="M1091,118.6 H1147.8 a2,2 0 0 1 2,2 V132.8 a2,2 0 0 1 -2,2 H1091 Z" fill="#311b92"/>
<text x="1101.2" y="131.0" font-family="Liberation Sans, sans-serif" font-size="12" fill="#fff" text-anchor="start" font-weight="bold" textLength="41.7" lengthAdjust="spacingAndGlyphs">351.295</text>
<path d="M1091,159.3 H1147.8 a2,2 0 0 1 2,2 V174 a2,2 0 0 1 -2,2 H1091 Z" fill="#311b92"/>
<text x="1101.2" y="171.95000000000002" font-family="Liberation Sans, sans-serif" font-size="12" fill="#fff" text-anchor="start" font-weight="bold" textLength="41.7" lengthAdjust="spacingAndGlyphs">341.258</text>
<path d="M1091,176 H1152.2 a2,2 0 0 1 2,2 V204.7 a2,2 0 0 1 -2,2 H1091 Z" fill="#26a69a"/>
<text x="1101.2" y="189" font-family="Liberation Sans, sans-serif" font-size="12" fill="#fff" text-anchor="start" font-weight="bold" textLength="41.7" lengthAdjust="spacingAndGlyphs">340.186</text>
<text x="1101.2" y="202.7" font-family="Liberation Sans, sans-serif" font-size="12" fill="#fff" text-anchor="start" font-weight="normal" textLength="47" lengthAdjust="spacingAndGlyphs" fill-opacity="0.75">02:56:10</text>
<path d="M1091,210 H1147.8 a2,2 0 0 1 2,2 V224.6 a2,2 0 0 1 -2,2 H1091 Z" fill="#0c3299"/>
<text x="1101.2" y="222.60000000000002" font-family="Liberation Sans, sans-serif" font-size="12" fill="#fff" text-anchor="start" font-weight="bold" textLength="41.7" lengthAdjust="spacingAndGlyphs">333.455</text>
<path d="M1091,254 H1147.8 a2,2 0 0 1 2,2 V269 a2,2 0 0 1 -2,2 H1091 Z" fill="#0c3299"/>
<text x="1101.2" y="266.8" font-family="Liberation Sans, sans-serif" font-size="12" fill="#fff" text-anchor="start" font-weight="bold" textLength="41.7" lengthAdjust="spacingAndGlyphs">324.940</text>
<rect x="1008.3" y="464" width="81.4" height="16.7" rx="2" fill="#ffeb3b"/>
<path d="M1091,464 H1134.6 a2,2 0 0 1 2,2 V478.7 a2,2 0 0 1 -2,2 H1091 Z" fill="#ffeb3b"/>
<text x="1013.7" y="476.8" font-family="Liberation Sans, sans-serif" font-size="12" fill="#131722" text-anchor="start" font-weight="normal" textLength="70.5" lengthAdjust="spacingAndGlyphs">RSI-based MA</text>
<text x="1101.2" y="476.8" font-family="Liberation Sans, sans-serif" font-size="12" fill="#131722" text-anchor="start" font-weight="normal" textLength="29.5" lengthAdjust="spacingAndGlyphs">60.60</text>
<rect x="1062" y="481.5" width="27.7" height="16.7" rx="2" fill="#7e57c2"/>
<path d="M1091,481.5 H1134.6 a2,2 0 0 1 2,2 V496.2 a2,2 0 0 1 -2,2 H1091 Z" fill="#7e57c2"/>
<text x="1068" y="494" font-family="Liberation Sans, sans-serif" font-size="12" fill="#fff" text-anchor="start" font-weight="bold" textLength="16" lengthAdjust="spacingAndGlyphs">RSI</text>
<text x="1101.2" y="494" font-family="Liberation Sans, sans-serif" font-size="12" fill="#fff" text-anchor="start" font-weight="bold" textLength="29.5" lengthAdjust="spacingAndGlyphs">54.57</text>
<rect x="1017.8" y="561" width="71.9" height="16.7" rx="2" fill="#2962ff"/>
<path d="M1091,561 H1128.7 a2,2 0 0 1 2,2 V575.7 a2,2 0 0 1 -2,2 H1091 Z" fill="#2962ff"/>
<text x="1023" y="573.7" font-family="Liberation Sans, sans-serif" font-size="12" fill="#fff" text-anchor="start" font-weight="bold" textLength="61" lengthAdjust="spacingAndGlyphs">Correlation</text>
<text x="1101.2" y="573.7" font-family="Liberation Sans, sans-serif" font-size="12" fill="#fff" text-anchor="start" font-weight="bold" textLength="23" lengthAdjust="spacingAndGlyphs">0.85</text>
<text x="63.599999999999994" y="689" font-family="Liberation Sans, sans-serif" font-size="12" fill="#131722" text-anchor="start" font-weight="normal" textLength="19" lengthAdjust="spacingAndGlyphs">Aug</text>
<text x="181.7" y="689" font-family="Liberation Sans, sans-serif" font-size="12" fill="#131722" text-anchor="start" font-weight="normal" textLength="19" lengthAdjust="spacingAndGlyphs">Sep</text>
<text x="300.1" y="689" font-family="Liberation Sans, sans-serif" font-size="12" fill="#131722" text-anchor="start" font-weight="normal" textLength="18" lengthAdjust="spacingAndGlyphs">Oct</text>
<text x="412.0" y="689" font-family="Liberation Sans, sans-serif" font-size="12" fill="#131722" text-anchor="start" font-weight="normal" textLength="20" lengthAdjust="spacingAndGlyphs">Nov</text>
<text x="529.6999999999999" y="689" font-family="Liberation Sans, sans-serif" font-size="12" fill="#131722" text-anchor="start" font-weight="normal" textLength="19.2" lengthAdjust="spacingAndGlyphs">Dec</text>
<text x="649.6" y="689" font-family="Liberation Sans, sans-serif" font-size="12" fill="#131722" text-anchor="start" font-weight="bold" textLength="27" lengthAdjust="spacingAndGlyphs">2022</text>
<text x="765.6999999999999" y="689" font-family="Liberation Sans, sans-serif" font-size="12" fill="#131722" text-anchor="start" font-weight="normal" textLength="19.2" lengthAdjust="spacingAndGlyphs">Feb</text>
<text x="872.6999999999999" y="689" font-family="Liberation Sans, sans-serif" font-size="12" fill="#131722" text-anchor="start" font-weight="normal" textLength="19.2" lengthAdjust="spacingAndGlyphs">Mar</text>
<text x="996.6999999999999" y="689" font-family="Liberation Sans, sans-serif" font-size="12" fill="#131722" text-anchor="start" font-weight="normal" textLength="18.2" lengthAdjust="spacingAndGlyphs">Apr</text>
<g fill="#05384f">
<path d="M12.6,66.9 H58.7 V80.7 H28.6 V90.5 H56 V104.6 H28.6 V124.7 H12.6 Z"/>
<path fill-rule="evenodd" d="M135.1,66.9 H164 C179,66.9 186.5,74.5 186.5,86 C186.5,95 182,101 174.6,103.8 L187.6,124.6 H169 L157.5,106.7 H151 V124.6 H135.1 Z M151,79.8 H163 C168.5,79.8 171.3,82.7 171.3,87.2 C171.3,91.7 168.5,94.6 163,94.6 H151 Z"/>
<path d="M194.1,66.9 H240.4 V80.2 H209.5 V89.5 H237.6 V102.1 H209.5 V111.1 H240.4 V124.6 H194.1 Z"/>
<path d="M246.6,66.9 H264.4 L274.5,83.4 L285.1,66.9 H302.1 L283.5,95.3 L303.3,124.6 H285.1 L274.5,107.8 L264,124.6 H245.6 L265.6,95.3 Z"/>
</g>
<circle cx="312.3" cy="104.3" r="4.3" fill="#05384f"/>
<g fill="none" stroke="#05384f">
<path d="M337.58,91.83 A8.2,8.2 0 1 0 337.58,102.37" stroke-width="7.8"/>
<circle cx="355.7" cy="97.2" r="8.85" stroke-width="7.3"/>
<path d="M376.3,85.8 V108.4 M376.3,108.4 V97 a7.1,8 0 0 1 14.2,0 V108.4 M390.5,97 a7.25,8 0 0 1 14.5,0 V108.4" stroke-width="8"/>
</g>
<g fill="#0db457">
<path fill-rule="evenodd" d="M91.8,65.9 a29.2,29.6 0 1 0 0.01,0 Z M92.3,73.8 a12.7,22.2 0 1 1 -0.01,0 Z"/>
<path d="M96.3,88.9 H129.7 L127.8,93.9 H94.9 Z"/>
<path d="M94.9,99.1 H128.5 L126.6,104.5 H93.2 Z"/>
</g>
<g fill="#1e222d">
<path d="M3.8,711.2 H11.7 V720.4 H7.7 V715.2 H3.8 Z"/>
<circle cx="14.7" cy="713.3" r="2.1"/>
<path d="M18.6,711.2 H23.5 L19.4,720.4 H14.6 Z"/>
</g>
<text x="27.4" y="720.5" font-family="Liberation Sans, sans-serif" font-size="13" fill="#1e222d" text-anchor="start" font-weight="normal" textLength="70" lengthAdjust="spacingAndGlyphs">TradingView</text>
</svg></body></html>
